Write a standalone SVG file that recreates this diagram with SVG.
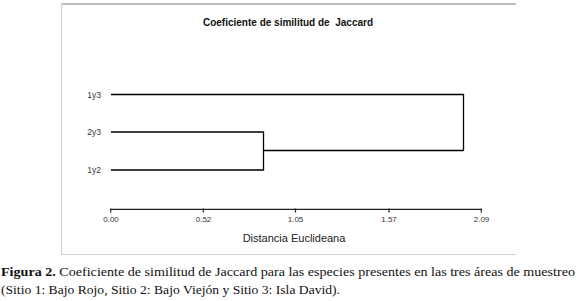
<svg xmlns="http://www.w3.org/2000/svg" width="576" height="301" viewBox="0 0 576 301">
<style>
.frame{fill:none;stroke:#d0d0d0;stroke-width:1}
.tree{fill:none;stroke:#000;stroke-width:1.3}
.axis{fill:none;stroke:#222;stroke-width:1.2}
.leaf{font-family:"Liberation Sans",Arial,sans-serif;font-size:8.5px;fill:#333;text-anchor:end}
.tick{font-family:"Liberation Sans",Arial,sans-serif;font-size:8px;fill:#333;text-anchor:middle}
.title{font-family:"Liberation Sans",Arial,sans-serif;font-size:10px;font-weight:bold;fill:#111;text-anchor:middle;white-space:pre}
.xlab{font-family:"Liberation Sans",Arial,sans-serif;font-size:11px;fill:#222;text-anchor:middle}
.cap{font-family:"Liberation Serif","Times New Roman",serif;font-size:13px;fill:#111}
</style>
<rect x="0" y="0" width="576" height="301" fill="#fff"/>
<g id="frame">
<line x1="61" y1="4" x2="516" y2="4" stroke="#bdbdbd" stroke-width="2"/>
<line x1="61.5" y1="3" x2="61.5" y2="255" class="frame"/>
<line x1="61" y1="254.5" x2="516" y2="254.5" class="frame" stroke="#dcdcdc"/>
</g>
<text class="title" x="288" y="26" xml:space="preserve">Coeficiente de similitud de  Jaccard</text>
<g id="leaf-1y3"><text class="leaf" x="101" y="97.5">1y3</text></g>
<g id="leaf-2y3"><text class="leaf" x="101" y="134.5">2y3</text></g>
<g id="leaf-1y2"><text class="leaf" x="101" y="173">1y2</text></g>
<g id="connectors">
<polyline class="tree" points="111,132 263.5,132 263.5,170 111,170"/>
<line class="tree" x1="263.5" y1="150.5" x2="463.5" y2="150.5"/>
<polyline class="tree" points="111,94.5 463.5,94.5 463.5,150.5"/>
</g>
<g id="axis">
<line class="axis" x1="110.7" y1="209.3" x2="481.3" y2="209.3"/>
<line class="axis" x1="110.7" y1="208.5" x2="110.7" y2="212.5"/>
<line class="axis" x1="203.3" y1="208.5" x2="203.3" y2="212.5"/>
<line class="axis" x1="295.5" y1="208.5" x2="295.5" y2="212.5"/>
<line class="axis" x1="389" y1="208.5" x2="389" y2="212.5"/>
<line class="axis" x1="481.3" y1="208.5" x2="481.3" y2="212.5"/>
<text class="tick" x="111" y="222">0.00</text>
<text class="tick" x="203.5" y="222">0.52</text>
<text class="tick" x="295.5" y="222">1.05</text>
<text class="tick" x="389" y="222">1.57</text>
<text class="tick" x="481.5" y="222">2.09</text>
<text class="xlab" x="294" y="241.5">Distancia Euclideana</text>
</g>
<text class="cap" x="1" y="276" textLength="574" lengthAdjust="spacingAndGlyphs"><tspan font-weight="bold">Figura 2.</tspan> Coeficiente de similitud de Jaccard para las especies presentes en las tres áreas de muestreo</text>
<text class="cap" x="1" y="294" textLength="339" lengthAdjust="spacingAndGlyphs">(Sitio 1: Bajo Rojo, Sitio 2: Bajo Viejón y Sitio 3: Isla David).</text>
</svg>
